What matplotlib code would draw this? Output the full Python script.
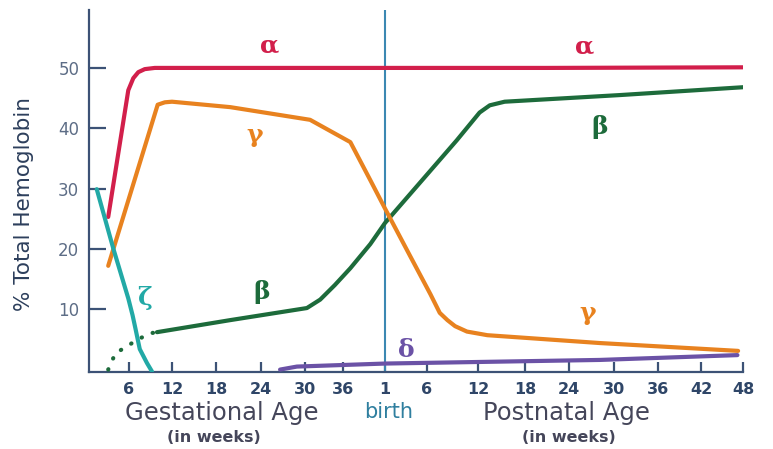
import numpy as np
import matplotlib
matplotlib.use("Agg")
import matplotlib.pyplot as plt

# ---------------- data (timeline weeks: gestational g -> g, postnatal p -> 39 + p) -------------
alpha_t = [3.1, 5.9, 6.6, 7.3, 8.2, 9.6, 20.0, 40.0, 60.0, 87.0]
alpha_v = [25.3, 46.3, 48.3, 49.3, 49.8, 50.0, 50.0, 50.0, 50.0, 50.1]

gamma_t = [3.1, 10.0, 11.0, 12.0, 19.9, 30.8, 36.7, 38.6, 40.0, 43.0, 45.4, 46.5, 47.4, 48.3, 49.7, 52.2, 67.1, 86.3]
gamma_v = [17.2, 43.9, 44.3, 44.4, 43.5, 41.4, 37.7, 31.4, 26.7, 18.8, 12.5, 9.4, 8.2, 7.2, 6.3, 5.7, 4.4, 3.1]

beta_dot_t = [3.1, 4.1, 5.5, 7.1, 8.9, 9.9]
beta_dot_v = [0.0, 2.7, 3.7, 4.9, 6.0, 6.2]
beta_t = [9.9, 19.9, 30.3, 32.4, 34.7, 36.7, 38.6, 40.0, 48.5, 51.2, 52.5, 54.4, 69.8, 87.0]
beta_v = [6.2, 8.2, 10.2, 11.6, 14.0, 16.8, 20.8, 24.3, 38.0, 42.6, 43.8, 44.4, 45.5, 46.8]

zeta_t = [1.5, 3.8, 5.9, 6.5, 6.9, 7.5, 8.5, 9.2]
zeta_v = [29.9, 20.1, 11.8, 9.0, 6.8, 3.4, 1.1, -0.3]

delta_t = [26.6, 28.9, 40.0, 67.1, 86.2]
delta_v = [0.0, 0.5, 1.0, 1.6, 2.4]

birth_t = 40
tick_t = [6, 12, 18, 24, 30, 36, 40, 45, 51, 57, 63, 69, 75, 81, 87]
tick_labels = ["6", "12", "18", "24", "30", "36", "1", "6", "12", "18", "24", "30", "36", "42", "48"]
ytick_v = [10, 20, 30, 40, 50]

# ---------------- hand-drawn, non-uniform time axis (anchor weeks -> drawing units) ------------
anchor_t = [-20, 0, 6, 12, 18, 24, 30, 36, 40, 45, 51, 57, 63, 69, 75, 81, 87, 120]
anchor_u = [-57.4, 86, 129, 172, 216, 261, 305, 343, 385, 427, 478, 525, 569, 614, 658, 701, 743, 974]

def fwd(x):
    return np.interp(x, anchor_t, anchor_u)

def inv(u):
    return np.interp(u, anchor_u, anchor_t)

W, H = 773, 449
fig = plt.figure(figsize=(W / 100, H / 100), dpi=100)
ax = fig.add_axes([89 / W, 1 - 372 / H, (743 - 89) / W, (372 - 10) / H])
ax.set_xscale("function", functions=(fwd, inv))
ax.set_xlim(inv(89), 87)
ax.set_ylim(-0.4, 59.6)

RED = "#d21f4b"
ORANGE = "#e8821f"
GREEN = "#1d6b3b"
TEAL = "#22a9a6"
PURPLE = "#6b52a6"
BLUE = "#3b88b2"
AXC = "#3c5276"

lw = 3.0
style = dict(lw=lw, solid_capstyle="round", solid_joinstyle="round")
ax.plot(delta_t, delta_v, color=PURPLE, zorder=3, **style)
ax.plot(beta_dot_t, beta_dot_v, color=GREEN, lw=lw, linestyle=(0, (0.1, 2.8)),
        dash_capstyle="round", zorder=3)
ax.plot(beta_t, beta_v, color=GREEN, zorder=4, **style)
ax.plot(gamma_t, gamma_v, color=ORANGE, zorder=4, **style)
ax.plot(alpha_t, alpha_v, color=RED, zorder=4, **style)
ax.plot(zeta_t, zeta_v, color=TEAL, zorder=5, **style)
ax.axvline(birth_t, color=BLUE, lw=1.5, zorder=2)

for s in ["top", "right"]:
    ax.spines[s].set_visible(False)
for s in ["left", "bottom"]:
    ax.spines[s].set_color(AXC)
    ax.spines[s].set_linewidth(1.6)

ax.set_xticks(tick_t)
ax.set_xticklabels(tick_labels)
ax.set_yticks(ytick_v)
ax.set_yticklabels([str(v) for v in ytick_v])
ax.tick_params(axis="x", direction="in", length=7, width=1.6, color=AXC, pad=7,
               labelsize=11.5, labelcolor="#2f4668")
ax.tick_params(axis="y", direction="in", length=12, width=1.6, color=AXC, pad=7,
               labelsize=12, labelcolor="#5d6d86")
for lab in ax.get_xticklabels():
    lab.set_fontweight("bold")

ax.set_ylabel("% Total Hemoglobin", fontsize=15.5, color="#2d3f5c")
ax.yaxis.set_label_coords(-0.084, (372 - 204) / 362)

# greek labels
gk = dict(family="DejaVu Serif", fontweight="bold", fontsize=18, ha="center", va="center")
ax.text(25.2, 53.8, "α", color=RED, **gk)
ax.text(65.1, 53.5, "α", color=RED, **gk)
ax.text(23.2, 38.9, "γ", color=ORANGE, **gk)
ax.text(65.5, 9.4, "γ", color=ORANGE, **gk)
ax.text(24.1, 12.9, "β", color=GREEN, **gk)
ax.text(67.1, 40.2, "β", color=GREEN, **gk)
ax.text(8.2, 11.9, "ζ", color=TEAL, **gk)
ax.text(42.5, 3.2, "δ", color=PURPLE, **gk)

# axis titles
fig.text(222 / W, 1 - 413 / H, "Gestational Age", fontsize=17.5, color="#45465a",
         ha="center", va="center")
fig.text(214 / W, 1 - 437 / H, "(in weeks)", fontsize=11.5, color="#45465a",
         ha="center", va="center", fontweight="bold")
fig.text(389 / W, 1 - 412 / H, "birth", fontsize=15, color="#2f7f9f",
         ha="center", va="center")
fig.text(566 / W, 1 - 413 / H, "Postnatal Age", fontsize=17.5, color="#45465a",
         ha="center", va="center")
fig.text(569 / W, 1 - 437 / H, "(in weeks)", fontsize=11.5, color="#45465a",
         ha="center", va="center", fontweight="bold")

fig.savefig("out.png", dpi=100)
